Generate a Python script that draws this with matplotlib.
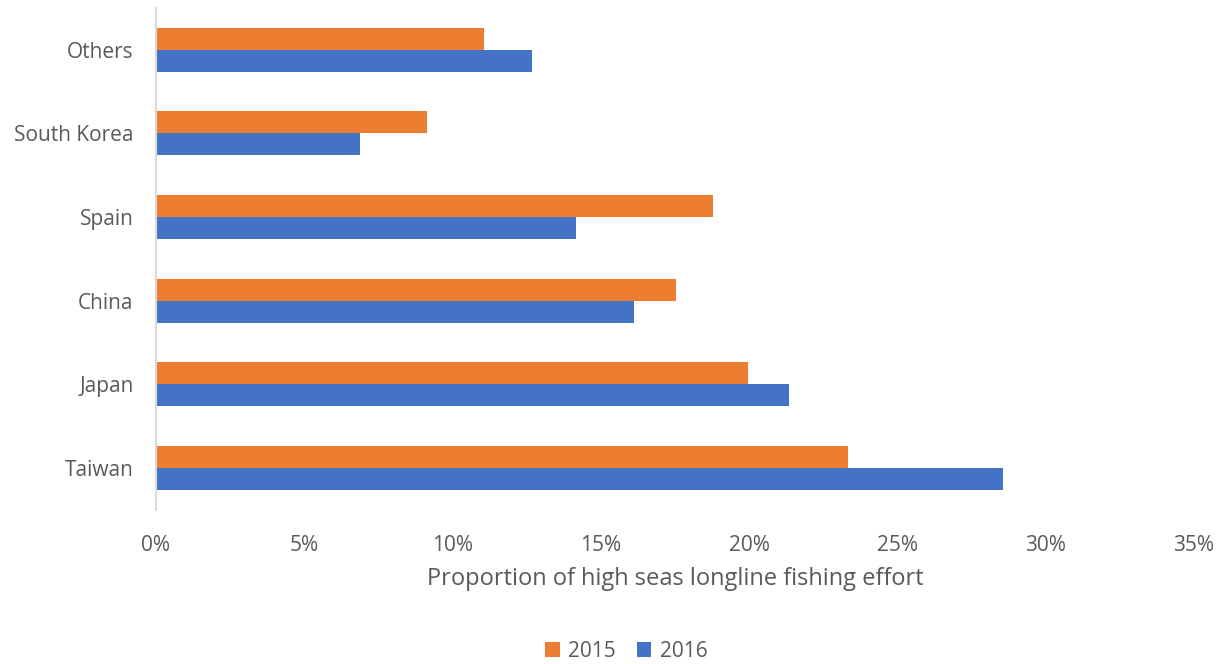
import numpy as np
import matplotlib
matplotlib.use('Agg')
import matplotlib.pyplot as plt
from matplotlib.ticker import FuncFormatter

# data (bottom to top as drawn)
countries = ['Taiwan', 'Japan', 'China', 'Spain', 'South Korea', 'Others']
effort_2015 = [23.33, 19.96, 17.53, 18.78, 9.14, 11.06]
effort_2016 = [28.56, 21.34, 16.12, 14.16, 6.88, 12.68]

plt.rcParams['font.family'] = ['Open Sans', 'DejaVu Sans']

fig = plt.figure(figsize=(12.25, 6.64), dpi=100)
ax = fig.add_axes([0.1273, 0.232, 0.8474, 0.756])

y = np.arange(len(countries))
h = 0.263
ax.barh(y + h / 2, effort_2015, height=h, color='#ED7D31', label='2015')
ax.barh(y - h / 2, effort_2016, height=h, color='#4472C4', label='2016')

ax.set_xlim(0, 35)
ax.set_ylim(-0.5, len(countries) - 0.5)
ax.set_xticks(np.arange(0, 36, 5))
ax.xaxis.set_major_formatter(FuncFormatter(lambda v, p: '%d%%' % v))
ax.set_yticks(y)
ax.set_yticklabels(countries)

for s in ['top', 'right', 'bottom']:
    ax.spines[s].set_visible(False)
ax.spines['left'].set_color('#D9D9D9')
ax.spines['left'].set_linewidth(1.5)
ax.tick_params(axis='both', length=0, labelsize=15, colors='#595959')
ax.tick_params(axis='x', pad=18)
ax.tick_params(axis='y', pad=16)

ax.set_xlabel('Proportion of high seas longline fishing effort', fontsize=17,
              color='#595959', labelpad=8)

ax.legend(loc='lower center', bbox_to_anchor=(0.453, -0.34), ncol=2,
          frameon=False, fontsize=15, labelcolor='#595959',
          handlelength=0.7, handleheight=0.7, columnspacing=1.0, handletextpad=0.4)

fig.savefig('out.png', dpi=100)
